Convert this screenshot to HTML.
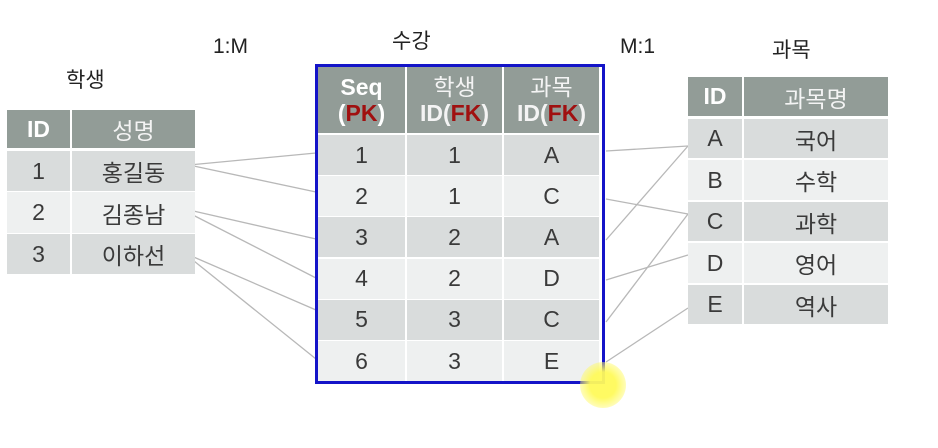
<!DOCTYPE html>
<html><head><meta charset="utf-8"><style>
body{margin:0;width:938px;height:448px;background:#fff;position:relative;overflow:hidden;font-family:"Liberation Sans","Noto Sans CJK KR",sans-serif;}
.c{position:absolute;display:flex;align-items:center;justify-content:center;font-size:23px;color:#3a3a3a;}
.h{background:#929c97;color:#fff;font-weight:bold;}
.hk{background:#929c97;color:#f4f4f4;font-weight:normal;}
.d{background:#d9dcdc;}
.l{background:#eef0f0;}
.t{position:absolute;font-size:21px;color:#222;}
.fk{color:#a01010;font-weight:bold;}
</style></head><body>
<svg width="938" height="448" style="position:absolute;left:0;top:0" stroke="#b8b8b8" stroke-width="1.3">
<line x1="189" y1="165" x2="316" y2="153"/><line x1="189" y1="165" x2="316" y2="192"/>
<line x1="189" y1="210" x2="316" y2="239"/><line x1="189" y1="213" x2="316" y2="278"/>
<line x1="189" y1="255" x2="316" y2="310"/><line x1="189" y1="257" x2="316" y2="359"/>
<line x1="606" y1="151" x2="688" y2="146"/><line x1="606" y1="199" x2="688" y2="214"/>
<line x1="606" y1="240" x2="688" y2="146"/><line x1="606" y1="280" x2="688" y2="255"/>
<line x1="606" y1="322" x2="688" y2="214"/><line x1="606" y1="362" x2="688" y2="308"/>
</svg>
<div class="t" style="left:66px;top:64px">학생</div>
<div class="t" style="left:213px;top:35px">1:M</div>
<div class="t" style="left:392px;top:25px">수강</div>
<div class="t" style="left:620px;top:35px">M:1</div>
<div class="t" style="left:772px;top:34px">과목</div>

<div>
<div class="c h" style="left:7px;top:110px;width:63px;height:38px">ID</div>
<div class="c hk" style="left:72px;top:110px;width:123px;height:38px">성명</div>
<div class="c d" style="left:7px;top:151px;width:63px;height:40px">1</div><div class="c d" style="left:72px;top:151px;width:123px;height:40px">홍길동</div>
<div class="c l" style="left:7px;top:192px;width:63px;height:41px">2</div><div class="c l" style="left:72px;top:192px;width:123px;height:41px">김종남</div>
<div class="c d" style="left:7px;top:234px;width:63px;height:40px">3</div><div class="c d" style="left:72px;top:234px;width:123px;height:40px">이하선</div>
</div>

<div style="position:absolute;left:315px;top:64px;width:284px;height:314px;border:3px solid #1414c8;background:#fff"></div>
<div class="c h" style="left:318px;top:67px;width:87px;height:66px;line-height:26px;flex-direction:column">Seq<span>(<span class="fk">PK</span>)</span></div>
<div class="c hk" style="left:407px;top:67px;width:95px;height:66px;line-height:26px;flex-direction:column">학생<span style="font-weight:bold">ID(<span class="fk">FK</span>)</span></div>
<div class="c hk" style="left:504px;top:67px;width:95px;height:66px;line-height:26px;flex-direction:column">과목<span style="font-weight:bold">ID(<span class="fk">FK</span>)</span></div>
<div id="rows"></div>

<div>
<div class="c h" style="left:688px;top:77px;width:54px;height:39px">ID</div>
<div class="c hk" style="left:744px;top:77px;width:144px;height:39px">과목명</div>
<div class="c d" style="left:688px;top:119px;width:54px;height:39px">A</div><div class="c d" style="left:744px;top:119px;width:144px;height:39px">국어</div>
<div class="c l" style="left:688px;top:160px;width:54px;height:40px">B</div><div class="c l" style="left:744px;top:160px;width:144px;height:40px">수학</div>
<div class="c d" style="left:688px;top:202px;width:54px;height:39px">C</div><div class="c d" style="left:744px;top:202px;width:144px;height:39px">과학</div>
<div class="c l" style="left:688px;top:243px;width:54px;height:40px">D</div><div class="c l" style="left:744px;top:243px;width:144px;height:40px">영어</div>
<div class="c d" style="left:688px;top:285px;width:54px;height:39px">E</div><div class="c d" style="left:744px;top:285px;width:144px;height:39px">역사</div>
</div>
<div style="position:absolute;left:580px;top:362px;width:46px;height:46px;border-radius:50%;background:radial-gradient(circle,rgba(255,250,90,0.95) 40%,rgba(255,250,120,0.3) 80%,rgba(255,255,255,0) 100%)"></div>
<script>
const seq=["1","2","3","4","5","6"];
const sid=["1","1","2","2","3","3"];
const cid=["A","C","A","D","C","E"];
const r=document.getElementById('rows');
const cols=[[318,87],[407,95],[504,95]];
for(let i=0;i<6;i++){
 const vals=[seq[i],sid[i],cid[i]];
 for(let j=0;j<3;j++){
  const el=document.createElement('div');
  
  
  el.className='c '+(i%2?'l':'d');
  el.style.cssText=`left:${cols[j][0]}px;top:${135+i*41.2}px;width:${cols[j][1]}px;height:40px`;
  el.textContent=vals[j];r.appendChild(el);
 }
}
</script>
</body></html>
